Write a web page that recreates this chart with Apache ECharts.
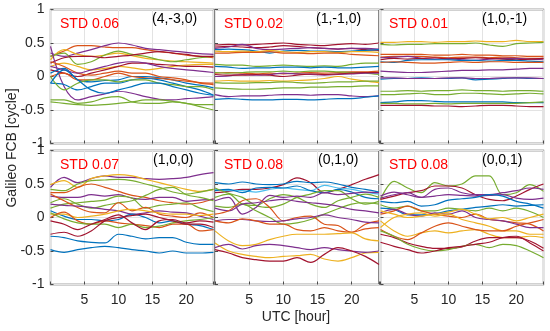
<!DOCTYPE html>
<html><head><meta charset="utf-8">
<script src="https://cdn.jsdelivr.net/npm/echarts@6/dist/echarts.min.js"></script>
<style>html,body{margin:0;padding:0;background:#fff}#c{width:550px;height:331px}</style>
</head><body><div id="c"></div>
<script>
// ---------------- data ----------------
const HOURS = [0,2,4,6,8,10,12,14,16,18,20,22,24];
const PANEL_TITLES = ['(4,-3,0)','(1,-1,0)','(1,0,-1)','(1,0,0)','(0,1,0)','(0,0,1)'];
const PANEL_STD = ['STD 0.06','STD 0.02','STD 0.01','STD 0.07','STD 0.08','STD 0.08'];
const Y_LABEL = 'Galileo FCB [cycle]';
const X_LABEL = 'UTC [hour]';

// panel (4,-3,0)
const P1 = [
  [0.30,0.38,0.46,0.46,0.44,0.43,0.43,0.40,0.37,0.35,0.32,0.30,0.28],
  [0.35,0.30,0.35,0.40,0.46,0.50,0.47,0.42,0.40,0.38,0.36,0.34,0.33],
  [0.25,0.40,0.33,0.30,0.32,0.35,0.31,0.27,0.25,0.23,0.22,0.21,0.20],
  [0.30,0.35,0.18,0.22,0.32,0.38,0.33,0.30,0.25,0.22,0.25,0.28,0.30],
  [0.20,0.28,0.30,0.30,0.28,0.30,0.32,0.35,0.37,0.35,0.33,0.30,0.30],
  [0.15,0.20,0.15,0.10,0.12,0.15,0.13,0.10,0.12,0.15,0.17,0.18,0.18],
  [0.10,0.05,0.00,0.05,0.10,0.15,0.20,0.20,0.18,0.17,0.15,0.15,0.14],
  [0.45,-0.15,-0.35,-0.30,-0.26,-0.22,-0.25,-0.30,-0.34,-0.35,-0.33,-0.32,-0.30],
  [0.05,0.12,-0.05,-0.08,-0.06,-0.05,0.00,0.00,-0.02,-0.05,-0.10,-0.13,-0.17],
  [0.00,0.05,-0.05,-0.05,0.00,0.05,0.00,-0.02,-0.03,-0.05,-0.07,-0.09,-0.10],
  [-0.10,-0.12,-0.20,-0.15,-0.10,-0.10,-0.05,-0.03,-0.05,-0.10,-0.15,-0.20,-0.28],
  [-0.35,-0.35,-0.40,-0.38,-0.32,-0.30,-0.38,-0.40,-0.40,-0.38,-0.40,-0.45,-0.50],
  [-0.38,-0.40,-0.42,-0.43,-0.42,-0.40,-0.38,-0.35,-0.35,-0.37,-0.40,-0.42,-0.42],
  [0.00,-0.20,-0.10,-0.05,-0.05,-0.08,-0.05,-0.05,-0.10,-0.12,-0.15,-0.15,-0.20],
  [0.22,0.15,0.05,0.02,0.05,0.08,0.05,0.05,0.00,-0.02,-0.05,-0.10,-0.12],
  [0.15,0.10,0.05,0.10,0.15,0.20,0.22,0.20,0.15,0.12,0.10,0.08,0.06],
  [-0.10,0.10,-0.05,-0.20,-0.25,-0.20,-0.15,-0.10,-0.10,-0.15,-0.20,-0.25,-0.28]
];
// panel (1,-1,0)
const P2 = [
  [0.47,0.48,0.47,0.48,0.49,0.50,0.48,0.47,0.46,0.48,0.49,0.48,0.50],
  [0.44,0.45,0.44,0.43,0.44,0.46,0.45,0.43,0.42,0.41,0.42,0.40,0.39],
  [0.42,0.44,0.48,0.42,0.40,0.41,0.42,0.43,0.42,0.41,0.42,0.42,0.41],
  [0.40,0.41,0.40,0.38,0.35,0.38,0.39,0.38,0.38,0.37,0.38,0.39,0.40],
  [0.38,0.37,0.38,0.37,0.39,0.37,0.36,0.37,0.37,0.36,0.37,0.37,0.36],
  [0.35,0.35,0.36,0.36,0.37,0.35,0.35,0.34,0.35,0.35,0.33,0.32,0.31],
  [0.18,0.17,0.17,0.15,0.16,0.17,0.16,0.15,0.16,0.15,0.18,0.20,0.20],
  [0.15,0.14,0.12,0.13,0.13,0.14,0.14,0.13,0.14,0.13,0.13,0.14,0.15],
  [0.05,0.06,0.05,0.04,0.05,0.04,0.05,0.06,0.05,0.06,0.07,0.07,0.08],
  [0.06,0.05,0.06,0.07,0.07,0.08,0.07,0.08,0.08,0.07,0.06,0.05,0.03],
  [0.00,0.01,0.03,0.02,0.03,0.05,0.04,0.03,0.02,0.03,0.04,0.05,0.05],
  [0.03,0.02,0.02,0.03,0.02,0.00,0.02,0.04,0.03,0.04,0.05,0.06,0.06],
  [-0.07,-0.06,-0.07,-0.07,-0.06,-0.07,-0.06,-0.05,-0.03,0.00,-0.04,-0.07,-0.09],
  [-0.09,-0.10,-0.10,-0.09,-0.09,-0.08,-0.09,-0.10,-0.09,-0.08,-0.08,-0.07,-0.07],
  [-0.17,-0.18,-0.19,-0.19,-0.18,-0.17,-0.17,-0.16,-0.16,-0.15,-0.15,-0.14,-0.14],
  [-0.27,-0.30,-0.29,-0.29,-0.28,-0.27,-0.27,-0.28,-0.27,-0.27,-0.29,-0.30,-0.29],
  [-0.34,-0.33,-0.34,-0.35,-0.35,-0.34,-0.34,-0.35,-0.34,-0.33,-0.33,-0.31,-0.29]
];
// panel (1,0,-1)
const P3 = [
  [0.51,0.51,0.52,0.52,0.51,0.52,0.52,0.53,0.52,0.52,0.54,0.52,0.52],
  [0.48,0.47,0.48,0.48,0.49,0.49,0.49,0.50,0.47,0.45,0.49,0.50,0.51],
  [0.33,0.33,0.33,0.33,0.32,0.32,0.33,0.32,0.32,0.31,0.31,0.30,0.30],
  [0.29,0.30,0.30,0.30,0.29,0.28,0.29,0.29,0.28,0.29,0.28,0.27,0.27],
  [0.28,0.29,0.30,0.27,0.26,0.27,0.25,0.24,0.26,0.27,0.27,0.26,0.25],
  [0.25,0.27,0.26,0.27,0.28,0.26,0.27,0.28,0.27,0.26,0.25,0.26,0.27],
  [0.22,0.21,0.24,0.25,0.25,0.25,0.24,0.24,0.23,0.24,0.24,0.23,0.22],
  [0.21,0.22,0.21,0.20,0.20,0.21,0.22,0.21,0.22,0.22,0.21,0.21,0.21],
  [0.08,0.07,0.06,0.06,0.07,0.08,0.09,0.09,0.10,0.10,0.11,0.12,0.12],
  [-0.04,-0.03,-0.03,-0.02,-0.03,-0.03,-0.02,-0.05,-0.04,-0.03,-0.02,-0.03,-0.03],
  [-0.02,-0.02,-0.03,-0.03,-0.03,-0.02,-0.02,-0.03,-0.03,-0.02,-0.02,-0.02,-0.03],
  [-0.22,-0.22,-0.21,-0.22,-0.21,-0.21,-0.20,-0.21,-0.21,-0.22,-0.21,-0.21,-0.22],
  [-0.27,-0.27,-0.26,-0.25,-0.27,-0.27,-0.25,-0.25,-0.26,-0.27,-0.26,-0.25,-0.26],
  [-0.39,-0.38,-0.36,-0.36,-0.37,-0.38,-0.38,-0.38,-0.38,-0.38,-0.39,-0.39,-0.39],
  [-0.40,-0.40,-0.41,-0.41,-0.40,-0.41,-0.40,-0.40,-0.40,-0.40,-0.40,-0.39,-0.38],
  [-0.43,-0.43,-0.43,-0.43,-0.44,-0.44,-0.45,-0.44,-0.43,-0.43,-0.44,-0.45,-0.45]
];
// panel (1,0,0)
const P4 = [
  [0.45,0.60,0.52,0.58,0.62,0.60,0.60,0.58,0.57,0.58,0.60,0.64,0.67],
  [0.49,0.55,0.45,0.58,0.62,0.64,0.62,0.57,0.52,0.47,0.42,0.39,0.42],
  [0.42,0.40,0.50,0.55,0.56,0.57,0.55,0.50,0.45,0.38,0.35,0.38,0.42],
  [0.37,0.37,0.45,0.50,0.45,0.39,0.33,0.30,0.25,0.22,0.20,0.22,0.28],
  [0.32,0.30,0.30,0.34,0.32,0.34,0.29,0.27,0.30,0.30,0.24,0.26,0.27],
  [0.22,0.28,0.20,0.14,0.18,0.22,0.25,0.33,0.42,0.45,0.34,0.30,0.25],
  [0.14,0.20,0.22,0.24,0.26,0.32,0.29,0.14,0.18,0.20,0.22,0.14,0.09],
  [0.35,0.25,0.15,0.08,0.07,0.22,0.10,0.15,0.05,0.02,0.00,0.07,0.00],
  [0.20,0.18,0.17,0.15,0.12,0.10,0.05,0.07,0.10,0.08,0.07,0.02,-0.03],
  [0.10,0.02,-0.03,-0.03,-0.05,-0.03,0.05,0.00,-0.08,-0.05,-0.10,-0.12,-0.18],
  [0.05,0.05,0.00,0.02,0.05,0.10,0.12,0.10,0.07,0.05,0.05,0.03,0.05],
  [0.00,0.08,-0.05,-0.10,-0.05,-0.08,-0.10,-0.12,-0.15,-0.10,-0.10,-0.20,-0.18],
  [0.07,-0.02,-0.08,-0.10,-0.10,-0.15,-0.10,-0.15,-0.13,-0.08,-0.05,-0.03,0.00],
  [-0.05,-0.10,-0.18,-0.10,-0.03,0.04,-0.08,-0.18,-0.05,-0.03,-0.08,-0.05,-0.07],
  [-0.25,-0.22,-0.28,-0.20,-0.05,0.00,0.03,0.05,0.00,-0.05,-0.10,-0.10,-0.15],
  [-0.28,-0.30,-0.35,-0.37,-0.38,-0.25,-0.28,-0.32,-0.30,-0.30,-0.37,-0.40,-0.40],
  [-0.48,-0.52,-0.48,-0.45,-0.43,-0.45,-0.48,-0.50,-0.53,-0.50,-0.53,-0.53,-0.52]
];
// panel (0,1,0)
const P5 = [
  [0.37,0.39,0.42,0.42,0.44,0.49,0.59,0.52,0.37,0.42,0.49,0.57,0.64],
  [0.52,0.50,0.53,0.50,0.49,0.50,0.54,0.52,0.53,0.50,0.45,0.42,0.38],
  [0.42,0.40,0.40,0.38,0.42,0.44,0.42,0.40,0.48,0.44,0.42,0.38,0.35],
  [0.40,0.42,0.37,0.44,0.45,0.44,0.47,0.40,0.37,0.42,0.38,0.30,0.28],
  [0.44,0.36,0.30,0.18,0.15,0.20,0.30,0.35,0.40,0.40,0.28,0.20,0.24],
  [0.30,0.35,0.20,0.18,0.28,0.34,0.30,0.20,0.15,0.25,0.30,0.35,0.30],
  [0.25,0.30,0.05,0.15,0.33,0.30,0.32,0.30,0.37,0.34,0.36,0.38,0.37],
  [0.17,0.15,0.20,0.10,0.00,-0.10,-0.08,-0.03,0.05,0.13,0.20,0.22,0.20],
  [0.14,0.10,0.20,0.22,0.25,0.27,0.24,0.22,0.20,0.17,0.12,0.10,0.07],
  [0.05,0.10,0.25,0.28,0.15,-0.05,0.00,0.02,-0.10,-0.12,-0.22,-0.10,-0.05],
  [-0.05,-0.03,-0.03,-0.05,-0.06,-0.05,-0.02,0.00,0.04,0.00,-0.03,-0.07,-0.08],
  [-0.05,-0.08,-0.02,-0.05,-0.10,-0.10,-0.18,-0.20,-0.15,-0.20,-0.22,-0.17,-0.15],
  [-0.20,-0.35,-0.42,-0.40,-0.33,-0.28,-0.25,-0.25,-0.25,-0.24,-0.23,-0.32,-0.35],
  [-0.38,-0.50,-0.55,-0.58,-0.60,-0.58,-0.57,-0.55,-0.62,-0.65,-0.60,-0.53,-0.52],
  [-0.45,-0.40,-0.47,-0.42,-0.40,-0.42,-0.45,-0.48,-0.45,-0.48,-0.50,-0.52,-0.50],
  [-0.48,-0.53,-0.60,-0.63,-0.65,-0.65,-0.60,-0.67,-0.55,-0.45,-0.50,-0.58,-0.70]
];
// panel (0,0,1)
const P6 = [
  [0.27,0.54,0.44,0.37,0.52,0.47,0.50,0.62,0.62,0.34,0.37,0.49,0.39],
  [0.27,0.32,0.37,0.40,0.47,0.47,0.44,0.34,0.27,0.25,0.32,0.42,0.50],
  [0.32,0.38,0.34,0.30,0.42,0.44,0.37,0.34,0.34,0.37,0.40,0.44,0.42],
  [0.29,0.34,0.37,0.30,0.32,0.34,0.33,0.32,0.33,0.34,0.29,0.27,0.29],
  [0.24,0.22,0.24,0.17,0.19,0.26,0.28,0.30,0.34,0.32,0.24,0.20,0.14],
  [0.14,0.12,0.04,0.04,0.05,0.10,0.12,0.15,0.17,0.19,0.17,0.18,0.19],
  [0.19,0.14,0.17,0.10,0.10,0.14,0.12,0.10,0.14,0.10,0.14,0.09,0.00],
  [0.05,0.10,0.17,0.10,0.05,0.02,0.00,0.05,-0.03,-0.05,-0.08,-0.10,-0.20],
  [0.07,0.12,0.05,0.02,0.07,0.05,0.10,0.00,-0.03,-0.05,-0.10,-0.15,-0.15],
  [-0.15,0.00,0.05,0.07,0.02,0.05,-0.03,-0.08,-0.13,-0.20,-0.20,-0.25,-0.25],
  [-0.05,-0.20,-0.28,-0.23,-0.20,-0.23,-0.20,-0.18,-0.25,-0.30,-0.30,-0.28,-0.30],
  [-0.18,-0.28,-0.33,-0.23,-0.13,-0.08,-0.13,-0.18,-0.20,-0.20,-0.13,-0.08,-0.03],
  [-0.25,-0.30,-0.38,-0.43,-0.46,-0.46,-0.44,-0.35,-0.30,-0.30,-0.30,-0.35,-0.46],
  [-0.20,-0.28,-0.40,-0.47,-0.50,-0.48,-0.43,-0.40,-0.45,-0.40,-0.42,-0.50,-0.60],
  [-0.37,-0.43,-0.48,-0.53,-0.50,-0.45,-0.43,-0.40,-0.37,-0.30,-0.28,-0.38,-0.50],
  [0.10,0.05,0.00,0.02,0.05,0.08,0.12,0.05,-0.02,0.00,-0.05,0.00,0.05]
];
const PANELS = [P1,P2,P3,P4,P5,P6];

// ---------------- styling ----------------
const C = {b:'#0072BD', o:'#D95319', y:'#EDB120', p:'#7E2F8E', g:'#77AC30', c:'#4DBEEE', r:'#A2142F'};
const PANEL_COLORS = [
  ['o','p','y','g','r','y','r','p','b','o','b','g','g','g','o','p','b'],
  ['r','r','p','b','y','o','g','b','o','g','p','r','y','g','g','p','b'],
  ['y','g','o','o','p','r','b','o','p','b','p','g','g','b','g','r'],
  ['p','y','g','o','p','g','g','o','p','b','y','o','g','r','r','b','b'],
  ['r','b','c','b','g','g','p','g','p','o','p','o','y','y','p','r'],
  ['g','r','p','p','b','b','g','o','p','y','y','o','r','g','r','y']
];
const FONT = "'Liberation Sans', Arial, sans-serif";
const COLS = [{left:50.5,width:163},{left:215,width:164},{left:380.5,width:163}];
const ROWS = [{top:9.5,height:134},{top:150.5,height:134}];

const grids=[], xAxes=[], yAxes=[], series=[], graphics=[];
const STD_X = [60,224,389,60,224,389];
const TTL_X = [152,316,482,153,318,482];
for (let i=0;i<6;i++){
  const r = Math.floor(i/3), c = i%3;
  grids.push({left:COLS[c].left, width:COLS[c].width, top:ROWS[r].top, height:ROWS[r].height,
    show:true, borderColor:'#4a4a4a', borderWidth:1.3, backgroundColor:'#fff'});
  xAxes.push({type:'value', gridIndex:i, min:0, max:24, interval:5, position:'bottom',
    axisLine:{show:false, onZero:false},
    axisTick:{show:true, inside:true, length:3, lineStyle:{color:'#4a4a4a'}},
    splitLine:{show:true, lineStyle:{color:'#e3e3e3', width:1}},
    axisLabel:{show:r===1, color:'#262626', fontSize:14, fontFamily:FONT, margin:9,
      formatter:v=> (v===0||v===24)?'':String(v)}});
  yAxes.push({type:'value', gridIndex:i, min:-1, max:1, interval:0.5, position:'left',
    axisLine:{show:false, onZero:false},
    axisTick:{show:true, inside:true, length:3, lineStyle:{color:'#4a4a4a'}},
    splitLine:{show:true, lineStyle:{color:'#e3e3e3', width:1}},
    axisLabel:{show:c===0, color:'#262626', fontSize:14, fontFamily:FONT, margin:6}});
  PANELS[i].forEach((vals,k)=>{
    series.push({type:'line', xAxisIndex:i, yAxisIndex:i, showSymbol:false, smooth:0.35,
      animation:false, lineStyle:{width:1.2, color:C[PANEL_COLORS[i][k]]},
      data: HOURS.map((h,j)=>[h, vals[j]])});
  });
  const ty = ROWS[r].top;
  graphics.push({type:'text', x:STD_X[i], y:ty+14.5, z:100,
    style:{text:PANEL_STD[i], fill:'#ff0000', font:'14px '+FONT, verticalAlign:'middle'}});
  graphics.push({type:'text', x:TTL_X[i], y:ty+10, z:100,
    style:{text:PANEL_TITLES[i], fill:'#000', font:'14px '+FONT, verticalAlign:'middle'}});
}
graphics.push({type:'text', x:12, y:148, rotation:Math.PI/2, z:100,
  style:{text:Y_LABEL, fill:'#262626', font:'14px '+FONT, align:'center', verticalAlign:'middle'}});
graphics.push({type:'text', x:296, y:317, z:100,
  style:{text:X_LABEL, fill:'#262626', font:'14px '+FONT, align:'center', verticalAlign:'middle'}});

const chart = echarts.init(document.getElementById('c'), null, {renderer:'canvas'});
chart.setOption({animation:false, backgroundColor:'#fff', grid:grids, xAxis:xAxes, yAxis:yAxes, series, graphic:graphics});
</script></body></html>
